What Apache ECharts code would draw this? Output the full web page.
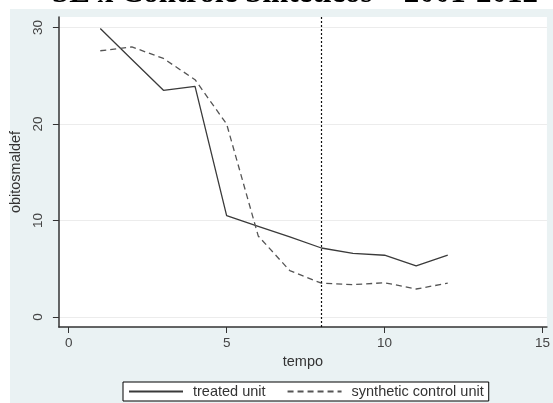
<!DOCTYPE html>
<html>
<head>
<meta charset="utf-8">
<title>SE x Controle Sintéticos</title>
<script src="https://cdn.jsdelivr.net/npm/echarts@6/dist/echarts.min.js"></script>
<style>
  html, body { margin: 0; padding: 0; background: #fff; }
  #main { width: 553px; height: 403px; }
</style>
</head>
<body>
<div id="main"></div>
<script>
  // dados
  var tempo = [1, 2, 3, 4, 5, 6, 7, 8, 9, 10, 11, 12];
  var treated = [29.9, 26.7, 23.5, 23.9, 10.5, 9.4, 8.3, 7.15, 6.6, 6.4, 5.3, 6.4];
  var synthetic = [27.6, 28.0, 26.8, 24.6, 20.0, 8.4, 4.8, 3.5, 3.35, 3.55, 2.9, 3.5];
  var xTicks = [0, 5, 10, 15];
  var yTicks = [0, 10, 20, 30];
  var treatmentTime = 8;

  var axisColor = '#333';
  var labelFont = 'Liberation Sans, Arial, sans-serif';

  function pairs(xs, ys) {
    return xs.map(function (x, i) { return [x, ys[i]]; });
  }

  var myChart = echarts.init(document.getElementById('main'));
  myChart.setOption({
    animation: false,
    backgroundColor: '#fff',
    graphic: [{
      type: 'rect',
      z: -10,
      shape: { x: 10, y: 9, width: 543, height: 394 },
      style: { fill: '#eaf2f3' }
    }, {
      type: 'text',
      x: 52,
      y: 9.5,
      style: {
        text: 'SE x Controle Sintéticos – 2001-2012',
        font: 'bold 31px "Liberation Serif", "Times New Roman", serif',
        verticalAlign: 'bottom',
        fill: '#000'
      }
    }],
    grid: {
      left: 57,
      top: 17,
      right: 0,
      bottom: 76,
      show: true,
      backgroundColor: '#fff',
      borderWidth: 0
    },
    legend: {
      left: 123,
      top: 382,
      padding: [2, 5, 2, 5],
      itemWidth: 54,
      itemHeight: 14,
      itemGap: 21,
      borderColor: '#000',
      borderWidth: 1,
      borderRadius: 0,
      backgroundColor: '#fff',
      itemStyle: { color: 'transparent', borderColor: 'transparent', borderWidth: 0 },
      textStyle: { fontSize: 14.5, color: '#333', fontFamily: labelFont, padding: [0, 0, 0, 5] },
      data: ['treated unit', 'synthetic control unit']
    },
    xAxis: {
      type: 'value',
      min: -0.31,
      max: 15.14,
      name: 'tempo',
      nameLocation: 'middle',
      nameGap: 25,
      nameTextStyle: { fontSize: 14.5, color: '#333', fontFamily: labelFont },
      axisLine: { onZero: false, lineStyle: { color: axisColor, width: 1.5 } },
      axisTick: { customValues: xTicks, length: 6, lineStyle: { color: axisColor } },
      axisLabel: { customValues: xTicks, margin: 9, fontSize: 13.5, color: '#444', fontFamily: labelFont },
      splitLine: { show: false }
    },
    yAxis: {
      type: 'value',
      min: -1.04,
      max: 31.1,
      name: 'obitosmaldef',
      nameLocation: 'middle',
      nameGap: 32,
      nameTextStyle: { fontSize: 14.5, color: '#333', fontFamily: labelFont },
      axisLine: { show: true, onZero: false, lineStyle: { color: axisColor, width: 1.5 } },
      axisTick: { show: true, customValues: yTicks, length: 6, lineStyle: { color: axisColor } },
      axisLabel: { customValues: yTicks, rotate: 90, margin: 14, fontSize: 13.5, color: '#444', fontFamily: labelFont },
      splitLine: { show: true, lineStyle: { color: '#ececec', width: 1 } }
    },
    series: [{
      name: 'treated unit',
      type: 'line',
      symbol: 'none',
      data: pairs(tempo, treated),
      lineStyle: { color: '#3a3a3a', width: 1.3, type: 'solid' },
      itemStyle: { color: '#3a3a3a' },
      markLine: {
        silent: true,
        symbol: 'none',
        label: { show: false },
        lineStyle: { color: '#111', width: 1.2, type: [2, 2] },
        data: [{ xAxis: treatmentTime }]
      }
    }, {
      name: 'synthetic control unit',
      type: 'line',
      symbol: 'none',
      data: pairs(tempo, synthetic),
      lineStyle: { color: '#555', width: 1.3, type: [6, 4] },
      itemStyle: { color: '#555' }
    }]
  });
</script>
</body>
</html>
